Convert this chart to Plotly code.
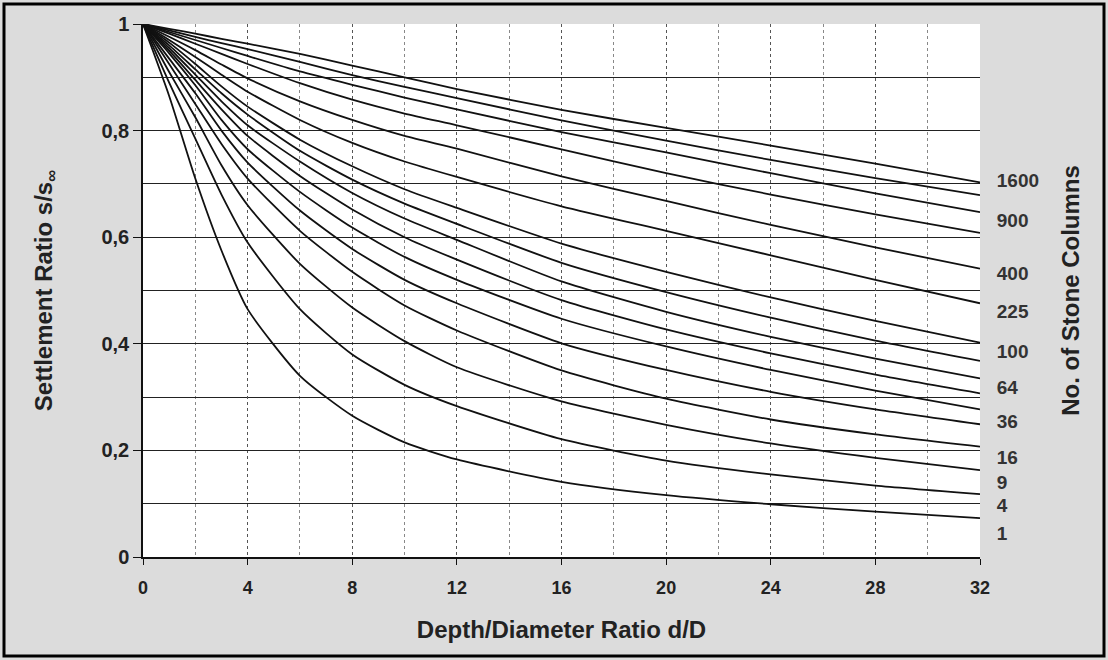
import plotly.graph_objects as go

# ---------------- data ----------------
depth_ratio = [0, 1, 2, 3, 4, 6, 8, 10, 12, 16, 20, 24, 28, 32]

n_columns = [1, 4, 9, 16, 25, 36, 49, 64, 81, 100, 225, 400, 625, 900, 1225, 1600]

s_1    = [1, 0.865, 0.71, 0.575, 0.465, 0.34, 0.265, 0.215, 0.183, 0.141, 0.116, 0.099, 0.085, 0.073]
s_4    = [1, 0.89, 0.785, 0.68, 0.59, 0.465, 0.38, 0.323, 0.283, 0.221, 0.181, 0.155, 0.134, 0.118]
s_9    = [1, 0.91, 0.825, 0.735, 0.66, 0.55, 0.468, 0.405, 0.356, 0.292, 0.248, 0.213, 0.186, 0.163]
s_16   = [1, 0.925, 0.85, 0.775, 0.71, 0.612, 0.535, 0.472, 0.425, 0.35, 0.297, 0.258, 0.23, 0.207]
s_25   = [1, 0.935, 0.87, 0.8, 0.74, 0.65, 0.578, 0.52, 0.476, 0.401, 0.351, 0.31, 0.277, 0.249]
s_36   = [1, 0.945, 0.885, 0.82, 0.765, 0.685, 0.618, 0.563, 0.52, 0.447, 0.395, 0.351, 0.312, 0.277]
s_49   = [1, 0.95, 0.895, 0.84, 0.79, 0.715, 0.652, 0.6, 0.558, 0.482, 0.427, 0.382, 0.342, 0.307]
s_64   = [1, 0.955, 0.905, 0.855, 0.81, 0.742, 0.683, 0.635, 0.595, 0.517, 0.46, 0.413, 0.372, 0.335]
s_81   = [1, 0.96, 0.915, 0.87, 0.83, 0.762, 0.708, 0.663, 0.625, 0.552, 0.497, 0.449, 0.406, 0.368]
s_100  = [1, 0.965, 0.925, 0.883, 0.845, 0.783, 0.733, 0.69, 0.655, 0.588, 0.535, 0.487, 0.443, 0.402]
s_225  = [1, 0.97, 0.938, 0.905, 0.873, 0.82, 0.777, 0.742, 0.713, 0.658, 0.612, 0.566, 0.52, 0.476]
s_400  = [1, 0.976, 0.951, 0.924, 0.898, 0.855, 0.82, 0.79, 0.766, 0.714, 0.668, 0.623, 0.581, 0.541]
s_625  = [1, 0.982, 0.963, 0.944, 0.925, 0.889, 0.858, 0.832, 0.81, 0.765, 0.72, 0.68, 0.643, 0.608]
s_900  = [1, 0.985, 0.97, 0.955, 0.94, 0.911, 0.886, 0.862, 0.84, 0.797, 0.759, 0.72, 0.682, 0.647]
s_1225 = [1, 0.988, 0.976, 0.964, 0.953, 0.929, 0.904, 0.882, 0.861, 0.819, 0.781, 0.745, 0.711, 0.679]
s_1600 = [1, 0.991, 0.982, 0.972, 0.963, 0.944, 0.922, 0.9, 0.878, 0.839, 0.805, 0.772, 0.738, 0.703]

series = [s_1, s_4, s_9, s_16, s_25, s_36, s_49, s_64, s_81, s_100,
          s_225, s_400, s_625, s_900, s_1225, s_1600]

# labels of the right-hand scale and where they sit on the s/s∞ scale
column_labels = ["1600", "900", "400", "225", "100", "64", "36", "16", "9", "4", "1"]
label_y = [0.707, 0.632, 0.532, 0.461, 0.386, 0.319, 0.255, 0.187, 0.141, 0.096, 0.045]

x_ticks = [0, 4, 8, 12, 16, 20, 24, 28, 32]
y_ticks = [0, 0.2, 0.4, 0.6, 0.8, 1]
y_tick_text = ["0", "0,2", "0,4", "0,6", "0,8", "1"]

# ---------------- figure ----------------
W, H = 1108, 660
L, R, T, B = 143, 128, 24, 103
FONT = "Liberation Sans, Arial, sans-serif"
TITLE_SIZE = 24

fig = go.Figure()
for n, s in zip(n_columns, series):
    fig.add_trace(go.Scatter(
        x=depth_ratio, y=s, mode="lines", name=str(n),
        line=dict(color="#111111", width=1.8, shape="spline", smoothing=0.6),
        showlegend=False, hoverinfo="skip"))

# invisible trace to carry the right-hand axis
fig.add_trace(go.Scatter(x=[0], y=[0], yaxis="y2", mode="lines",
                         line=dict(width=0), opacity=0,
                         showlegend=False, hoverinfo="skip"))

pw = W - L - R
ph = H - T - B


def px_to_paper_x(px):
    return (px - L) / pw


def px_to_paper_y(py):
    return (H - B - py) / ph


fig.update_layout(
    width=W, height=H,
    margin=dict(l=L, r=R, t=T, b=B, autoexpand=False),
    paper_bgcolor="#dcdcdc",
    plot_bgcolor="#ffffff",
    font=dict(family=FONT, color="#222222", size=18),
    xaxis=dict(
        range=[0, 32], tickvals=x_ticks, ticktext=[str(v) for v in x_ticks],
        showline=True, linecolor="#111111", linewidth=1.5,
        ticks="outside", ticklen=6, tickcolor="#111111",
        ticklabelstandoff=8,
        tickfont=dict(size=18, weight="bold", color="#222222"),
        showgrid=True, gridcolor="#555555", gridwidth=1, griddash="dot",
        minor=dict(dtick=2, showgrid=True, gridcolor="#888888", griddash="dot", gridwidth=1),
        zeroline=False,
        title=dict(text="<b>Depth/Diameter Ratio d/D</b>",
                   font=dict(size=TITLE_SIZE, color="#222222"), standoff=24),
    ),
    yaxis=dict(
        range=[0, 1], tickvals=y_ticks, ticktext=y_tick_text,
        showline=True, linecolor="#111111", linewidth=1.5,
        ticks="outside", ticklen=8, tickcolor="#111111",
        tickfont=dict(size=20, weight="bold", color="#222222"),
        showgrid=True, gridcolor="#222222", gridwidth=1,
        minor=dict(dtick=0.1, showgrid=True, gridcolor="#222222", gridwidth=1),
        zeroline=False,
        title=dict(text="<b>Settlement Ratio s/s<sub>∞</sub></b>",
                   font=dict(size=TITLE_SIZE, color="#222222"), standoff=42),
    ),
    yaxis2=dict(
        overlaying="y", side="right", range=[0, 1],
        tickvals=label_y, ticktext=column_labels,
        showgrid=False, showline=False, zeroline=False,
        ticks="outside", ticklen=12, tickcolor="rgba(0,0,0,0)",
        tickfont=dict(size=19, weight="bold", color="#333333"),
        title=dict(text="<b>No. of Stone Columns</b>",
                   font=dict(size=TITLE_SIZE, color="#222222"), standoff=24),
    ),
    shapes=[dict(
        type="rect", xref="paper", yref="paper",
        x0=px_to_paper_x(4), x1=px_to_paper_x(1104),
        y0=px_to_paper_y(656), y1=px_to_paper_y(4),
        line=dict(color="#000000", width=3), fillcolor="rgba(0,0,0,0)", layer="above")],
)

fig.write_html("out.html")
